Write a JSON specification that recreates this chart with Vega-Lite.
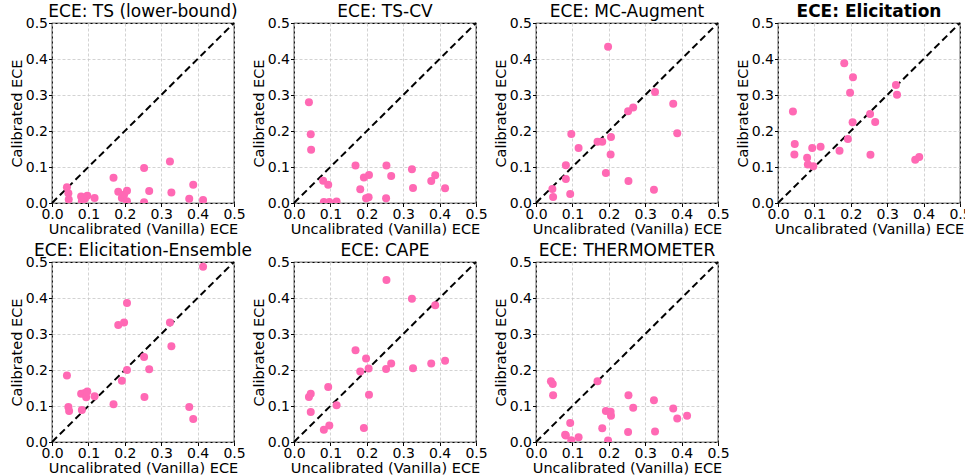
{
  "$schema": "https://vega.github.io/schema/vega-lite/v6.json",
  "background": "white",
  "padding": {"left": 8, "top": 2, "right": 0, "bottom": 0},
  "bounds": "flush",
  "columns": 4,
  "spacing": {"row": 59, "column": 60},
  "config": {
    "font": "DejaVu Sans",
    "view": {"stroke": "black", "strokeWidth": 1.2},
    "axis": {
      "domain": false, "grid": true, "gridColor": "#c8c8c8", "gridDash": [3, 2], "gridWidth": 0.8,
      "tickColor": "black", "tickSize": 3.5, "labelColor": "black", "labelFontSize": 14, "labelPadding": 1,
      "titleFontSize": 14.5, "titleFontWeight": "normal", "titleColor": "black", "titlePadding": 1,
      "values": [0, 0.1, 0.2, 0.3, 0.4, 0.5], "format": ".1f", "labelFlush": false, "labelOverlap": false
    },
    "title": {"fontSize": 17, "fontWeight": "normal", "offset": -5, "color": "black"}
  },
  "datasets": {
    "pts": [
      {"panel": "TS", "vanilla": 0.041, "calibrated": 0.044},
      {"panel": "TS", "vanilla": 0.045, "calibrated": 0.027},
      {"panel": "TS", "vanilla": 0.046, "calibrated": 0.010},
      {"panel": "TS", "vanilla": 0.080, "calibrated": 0.018},
      {"panel": "TS", "vanilla": 0.082, "calibrated": 0.005},
      {"panel": "TS", "vanilla": 0.090, "calibrated": 0.012},
      {"panel": "TS", "vanilla": 0.097, "calibrated": 0.020},
      {"panel": "TS", "vanilla": 0.117, "calibrated": 0.014},
      {"panel": "TS", "vanilla": 0.169, "calibrated": 0.070},
      {"panel": "TS", "vanilla": 0.182, "calibrated": 0.031},
      {"panel": "TS", "vanilla": 0.192, "calibrated": 0.014},
      {"panel": "TS", "vanilla": 0.198, "calibrated": 0.023},
      {"panel": "TS", "vanilla": 0.206, "calibrated": 0.034},
      {"panel": "TS", "vanilla": 0.206, "calibrated": 0.005},
      {"panel": "TS", "vanilla": 0.253, "calibrated": 0.097},
      {"panel": "TS", "vanilla": 0.253, "calibrated": 0.002},
      {"panel": "TS", "vanilla": 0.267, "calibrated": 0.033},
      {"panel": "TS", "vanilla": 0.324, "calibrated": 0.115},
      {"panel": "TS", "vanilla": 0.328, "calibrated": 0.029},
      {"panel": "TS", "vanilla": 0.377, "calibrated": 0.012},
      {"panel": "TS", "vanilla": 0.388, "calibrated": 0.051},
      {"panel": "TS", "vanilla": 0.415, "calibrated": 0.008},

      {"panel": "TSCV", "vanilla": 0.041, "calibrated": 0.280},
      {"panel": "TSCV", "vanilla": 0.046, "calibrated": 0.191},
      {"panel": "TSCV", "vanilla": 0.047, "calibrated": 0.148},
      {"panel": "TSCV", "vanilla": 0.080, "calibrated": 0.062},
      {"panel": "TSCV", "vanilla": 0.082, "calibrated": 0.003},
      {"panel": "TSCV", "vanilla": 0.094, "calibrated": 0.051},
      {"panel": "TSCV", "vanilla": 0.097, "calibrated": 0.003},
      {"panel": "TSCV", "vanilla": 0.117, "calibrated": 0.004},
      {"panel": "TSCV", "vanilla": 0.169, "calibrated": 0.104},
      {"panel": "TSCV", "vanilla": 0.182, "calibrated": 0.038},
      {"panel": "TSCV", "vanilla": 0.192, "calibrated": 0.071},
      {"panel": "TSCV", "vanilla": 0.198, "calibrated": 0.013},
      {"panel": "TSCV", "vanilla": 0.206, "calibrated": 0.078},
      {"panel": "TSCV", "vanilla": 0.205, "calibrated": 0.016},
      {"panel": "TSCV", "vanilla": 0.253, "calibrated": 0.013},
      {"panel": "TSCV", "vanilla": 0.254, "calibrated": 0.104},
      {"panel": "TSCV", "vanilla": 0.267, "calibrated": 0.075},
      {"panel": "TSCV", "vanilla": 0.324, "calibrated": 0.094},
      {"panel": "TSCV", "vanilla": 0.327, "calibrated": 0.042},
      {"panel": "TSCV", "vanilla": 0.377, "calibrated": 0.061},
      {"panel": "TSCV", "vanilla": 0.388, "calibrated": 0.077},
      {"panel": "TSCV", "vanilla": 0.415, "calibrated": 0.041},

      {"panel": "MC", "vanilla": 0.198, "calibrated": 0.434},
      {"panel": "MC", "vanilla": 0.327, "calibrated": 0.308},
      {"panel": "MC", "vanilla": 0.377, "calibrated": 0.276},
      {"panel": "MC", "vanilla": 0.388, "calibrated": 0.194},
      {"panel": "MC", "vanilla": 0.253, "calibrated": 0.255},
      {"panel": "MC", "vanilla": 0.267, "calibrated": 0.265},
      {"panel": "MC", "vanilla": 0.097, "calibrated": 0.192},
      {"panel": "MC", "vanilla": 0.117, "calibrated": 0.153},
      {"panel": "MC", "vanilla": 0.169, "calibrated": 0.170},
      {"panel": "MC", "vanilla": 0.182, "calibrated": 0.170},
      {"panel": "MC", "vanilla": 0.206, "calibrated": 0.183},
      {"panel": "MC", "vanilla": 0.205, "calibrated": 0.135},
      {"panel": "MC", "vanilla": 0.082, "calibrated": 0.105},
      {"panel": "MC", "vanilla": 0.082, "calibrated": 0.067},
      {"panel": "MC", "vanilla": 0.192, "calibrated": 0.083},
      {"panel": "MC", "vanilla": 0.254, "calibrated": 0.061},
      {"panel": "MC", "vanilla": 0.324, "calibrated": 0.037},
      {"panel": "MC", "vanilla": 0.045, "calibrated": 0.039},
      {"panel": "MC", "vanilla": 0.047, "calibrated": 0.017},
      {"panel": "MC", "vanilla": 0.094, "calibrated": 0.025},

      {"panel": "EL", "vanilla": 0.182, "calibrated": 0.388},
      {"panel": "EL", "vanilla": 0.206, "calibrated": 0.349},
      {"panel": "EL", "vanilla": 0.198, "calibrated": 0.306},
      {"panel": "EL", "vanilla": 0.324, "calibrated": 0.328},
      {"panel": "EL", "vanilla": 0.327, "calibrated": 0.301},
      {"panel": "EL", "vanilla": 0.041, "calibrated": 0.254},
      {"panel": "EL", "vanilla": 0.253, "calibrated": 0.247},
      {"panel": "EL", "vanilla": 0.205, "calibrated": 0.224},
      {"panel": "EL", "vanilla": 0.267, "calibrated": 0.225},
      {"panel": "EL", "vanilla": 0.192, "calibrated": 0.178},
      {"panel": "EL", "vanilla": 0.046, "calibrated": 0.164},
      {"panel": "EL", "vanilla": 0.045, "calibrated": 0.135},
      {"panel": "EL", "vanilla": 0.094, "calibrated": 0.153},
      {"panel": "EL", "vanilla": 0.117, "calibrated": 0.156},
      {"panel": "EL", "vanilla": 0.169, "calibrated": 0.145},
      {"panel": "EL", "vanilla": 0.080, "calibrated": 0.126},
      {"panel": "EL", "vanilla": 0.082, "calibrated": 0.107},
      {"panel": "EL", "vanilla": 0.097, "calibrated": 0.102},
      {"panel": "EL", "vanilla": 0.254, "calibrated": 0.134},
      {"panel": "EL", "vanilla": 0.377, "calibrated": 0.120},
      {"panel": "EL", "vanilla": 0.388, "calibrated": 0.128},

      {"panel": "ENS", "vanilla": 0.415, "calibrated": 0.487},
      {"panel": "ENS", "vanilla": 0.206, "calibrated": 0.386},
      {"panel": "ENS", "vanilla": 0.182, "calibrated": 0.325},
      {"panel": "ENS", "vanilla": 0.198, "calibrated": 0.332},
      {"panel": "ENS", "vanilla": 0.324, "calibrated": 0.332},
      {"panel": "ENS", "vanilla": 0.328, "calibrated": 0.266},
      {"panel": "ENS", "vanilla": 0.041, "calibrated": 0.185},
      {"panel": "ENS", "vanilla": 0.253, "calibrated": 0.236},
      {"panel": "ENS", "vanilla": 0.206, "calibrated": 0.200},
      {"panel": "ENS", "vanilla": 0.267, "calibrated": 0.202},
      {"panel": "ENS", "vanilla": 0.192, "calibrated": 0.170},
      {"panel": "ENS", "vanilla": 0.080, "calibrated": 0.134},
      {"panel": "ENS", "vanilla": 0.090, "calibrated": 0.136},
      {"panel": "ENS", "vanilla": 0.094, "calibrated": 0.124},
      {"panel": "ENS", "vanilla": 0.097, "calibrated": 0.140},
      {"panel": "ENS", "vanilla": 0.117, "calibrated": 0.127},
      {"panel": "ENS", "vanilla": 0.169, "calibrated": 0.105},
      {"panel": "ENS", "vanilla": 0.254, "calibrated": 0.125},
      {"panel": "ENS", "vanilla": 0.045, "calibrated": 0.097},
      {"panel": "ENS", "vanilla": 0.047, "calibrated": 0.086},
      {"panel": "ENS", "vanilla": 0.082, "calibrated": 0.089},
      {"panel": "ENS", "vanilla": 0.377, "calibrated": 0.097},
      {"panel": "ENS", "vanilla": 0.388, "calibrated": 0.064},

      {"panel": "CAPE", "vanilla": 0.254, "calibrated": 0.450},
      {"panel": "CAPE", "vanilla": 0.324, "calibrated": 0.398},
      {"panel": "CAPE", "vanilla": 0.388, "calibrated": 0.380},
      {"panel": "CAPE", "vanilla": 0.169, "calibrated": 0.255},
      {"panel": "CAPE", "vanilla": 0.198, "calibrated": 0.232},
      {"panel": "CAPE", "vanilla": 0.182, "calibrated": 0.196},
      {"panel": "CAPE", "vanilla": 0.205, "calibrated": 0.204},
      {"panel": "CAPE", "vanilla": 0.253, "calibrated": 0.203},
      {"panel": "CAPE", "vanilla": 0.267, "calibrated": 0.218},
      {"panel": "CAPE", "vanilla": 0.327, "calibrated": 0.205},
      {"panel": "CAPE", "vanilla": 0.377, "calibrated": 0.218},
      {"panel": "CAPE", "vanilla": 0.415, "calibrated": 0.226},
      {"panel": "CAPE", "vanilla": 0.094, "calibrated": 0.153},
      {"panel": "CAPE", "vanilla": 0.041, "calibrated": 0.125},
      {"panel": "CAPE", "vanilla": 0.046, "calibrated": 0.134},
      {"panel": "CAPE", "vanilla": 0.046, "calibrated": 0.083},
      {"panel": "CAPE", "vanilla": 0.117, "calibrated": 0.102},
      {"panel": "CAPE", "vanilla": 0.206, "calibrated": 0.131},
      {"panel": "CAPE", "vanilla": 0.082, "calibrated": 0.034},
      {"panel": "CAPE", "vanilla": 0.097, "calibrated": 0.046},
      {"panel": "CAPE", "vanilla": 0.192, "calibrated": 0.039},

      {"panel": "TH", "vanilla": 0.041, "calibrated": 0.169},
      {"panel": "TH", "vanilla": 0.046, "calibrated": 0.161},
      {"panel": "TH", "vanilla": 0.047, "calibrated": 0.130},
      {"panel": "TH", "vanilla": 0.169, "calibrated": 0.169},
      {"panel": "TH", "vanilla": 0.254, "calibrated": 0.130},
      {"panel": "TH", "vanilla": 0.324, "calibrated": 0.116},
      {"panel": "TH", "vanilla": 0.377, "calibrated": 0.093},
      {"panel": "TH", "vanilla": 0.388, "calibrated": 0.065},
      {"panel": "TH", "vanilla": 0.415, "calibrated": 0.073},
      {"panel": "TH", "vanilla": 0.327, "calibrated": 0.029},
      {"panel": "TH", "vanilla": 0.253, "calibrated": 0.028},
      {"panel": "TH", "vanilla": 0.267, "calibrated": 0.095},
      {"panel": "TH", "vanilla": 0.192, "calibrated": 0.086},
      {"panel": "TH", "vanilla": 0.205, "calibrated": 0.084},
      {"panel": "TH", "vanilla": 0.206, "calibrated": 0.073},
      {"panel": "TH", "vanilla": 0.182, "calibrated": 0.038},
      {"panel": "TH", "vanilla": 0.094, "calibrated": 0.053},
      {"panel": "TH", "vanilla": 0.080, "calibrated": 0.020},
      {"panel": "TH", "vanilla": 0.082, "calibrated": 0.018},
      {"panel": "TH", "vanilla": 0.097, "calibrated": 0.005},
      {"panel": "TH", "vanilla": 0.117, "calibrated": 0.013},
      {"panel": "TH", "vanilla": 0.198, "calibrated": 0.004}
    ],
    "diag": [{"v": 0}, {"v": 0.5}]
  },
  "concat": [
    {
      "title": "ECE: TS (lower-bound)", "width": 182, "height": 180,
      "layer": [
        {"data": {"name": "diag"}, "mark": {"type": "line", "color": "black", "strokeDash": [7, 4], "strokeWidth": 2},
         "encoding": {"x": {"field": "v", "type": "quantitative", "scale": {"domain": [0, 0.5], "nice": false}, "title": "Uncalibrated (Vanilla) ECE"},
                      "y": {"field": "v", "type": "quantitative", "scale": {"domain": [0, 0.5], "nice": false}, "title": "Calibrated ECE"}}},
        {"data": {"name": "pts"}, "transform": [{"filter": "datum.panel === 'TS'"}],
         "mark": {"type": "circle", "size": 64, "color": "#ff69b4", "opacity": 1, "clip": true},
         "encoding": {"x": {"field": "vanilla", "type": "quantitative"}, "y": {"field": "calibrated", "type": "quantitative"}}}
      ]
    },
    {
      "title": "ECE: TS-CV", "width": 182, "height": 180,
      "layer": [
        {"data": {"name": "diag"}, "mark": {"type": "line", "color": "black", "strokeDash": [7, 4], "strokeWidth": 2},
         "encoding": {"x": {"field": "v", "type": "quantitative", "scale": {"domain": [0, 0.5], "nice": false}, "title": "Uncalibrated (Vanilla) ECE"},
                      "y": {"field": "v", "type": "quantitative", "scale": {"domain": [0, 0.5], "nice": false}, "title": "Calibrated ECE"}}},
        {"data": {"name": "pts"}, "transform": [{"filter": "datum.panel === 'TSCV'"}],
         "mark": {"type": "circle", "size": 64, "color": "#ff69b4", "opacity": 1, "clip": true},
         "encoding": {"x": {"field": "vanilla", "type": "quantitative"}, "y": {"field": "calibrated", "type": "quantitative"}}}
      ]
    },
    {
      "title": "ECE: MC-Augment", "width": 182, "height": 180,
      "layer": [
        {"data": {"name": "diag"}, "mark": {"type": "line", "color": "black", "strokeDash": [7, 4], "strokeWidth": 2},
         "encoding": {"x": {"field": "v", "type": "quantitative", "scale": {"domain": [0, 0.5], "nice": false}, "title": "Uncalibrated (Vanilla) ECE"},
                      "y": {"field": "v", "type": "quantitative", "scale": {"domain": [0, 0.5], "nice": false}, "title": "Calibrated ECE"}}},
        {"data": {"name": "pts"}, "transform": [{"filter": "datum.panel === 'MC'"}],
         "mark": {"type": "circle", "size": 64, "color": "#ff69b4", "opacity": 1, "clip": true},
         "encoding": {"x": {"field": "vanilla", "type": "quantitative"}, "y": {"field": "calibrated", "type": "quantitative"}}}
      ]
    },
    {
      "title": {"text": "ECE: Elicitation", "fontWeight": "bold"}, "width": 182, "height": 180,
      "layer": [
        {"data": {"name": "diag"}, "mark": {"type": "line", "color": "black", "strokeDash": [7, 4], "strokeWidth": 2},
         "encoding": {"x": {"field": "v", "type": "quantitative", "scale": {"domain": [0, 0.5], "nice": false}, "title": "Uncalibrated (Vanilla) ECE"},
                      "y": {"field": "v", "type": "quantitative", "scale": {"domain": [0, 0.5], "nice": false}, "title": "Calibrated ECE"}}},
        {"data": {"name": "pts"}, "transform": [{"filter": "datum.panel === 'EL'"}],
         "mark": {"type": "circle", "size": 64, "color": "#ff69b4", "opacity": 1, "clip": true},
         "encoding": {"x": {"field": "vanilla", "type": "quantitative"}, "y": {"field": "calibrated", "type": "quantitative"}}}
      ]
    },
    {
      "title": "ECE: Elicitation-Ensemble", "width": 182, "height": 180,
      "layer": [
        {"data": {"name": "diag"}, "mark": {"type": "line", "color": "black", "strokeDash": [7, 4], "strokeWidth": 2},
         "encoding": {"x": {"field": "v", "type": "quantitative", "scale": {"domain": [0, 0.5], "nice": false}, "title": "Uncalibrated (Vanilla) ECE"},
                      "y": {"field": "v", "type": "quantitative", "scale": {"domain": [0, 0.5], "nice": false}, "title": "Calibrated ECE"}}},
        {"data": {"name": "pts"}, "transform": [{"filter": "datum.panel === 'ENS'"}],
         "mark": {"type": "circle", "size": 64, "color": "#ff69b4", "opacity": 1, "clip": true},
         "encoding": {"x": {"field": "vanilla", "type": "quantitative"}, "y": {"field": "calibrated", "type": "quantitative"}}}
      ]
    },
    {
      "title": "ECE: CAPE", "width": 182, "height": 180,
      "layer": [
        {"data": {"name": "diag"}, "mark": {"type": "line", "color": "black", "strokeDash": [7, 4], "strokeWidth": 2},
         "encoding": {"x": {"field": "v", "type": "quantitative", "scale": {"domain": [0, 0.5], "nice": false}, "title": "Uncalibrated (Vanilla) ECE"},
                      "y": {"field": "v", "type": "quantitative", "scale": {"domain": [0, 0.5], "nice": false}, "title": "Calibrated ECE"}}},
        {"data": {"name": "pts"}, "transform": [{"filter": "datum.panel === 'CAPE'"}],
         "mark": {"type": "circle", "size": 64, "color": "#ff69b4", "opacity": 1, "clip": true},
         "encoding": {"x": {"field": "vanilla", "type": "quantitative"}, "y": {"field": "calibrated", "type": "quantitative"}}}
      ]
    },
    {
      "title": "ECE: THERMOMETER", "width": 182, "height": 180,
      "layer": [
        {"data": {"name": "diag"}, "mark": {"type": "line", "color": "black", "strokeDash": [7, 4], "strokeWidth": 2},
         "encoding": {"x": {"field": "v", "type": "quantitative", "scale": {"domain": [0, 0.5], "nice": false}, "title": "Uncalibrated (Vanilla) ECE"},
                      "y": {"field": "v", "type": "quantitative", "scale": {"domain": [0, 0.5], "nice": false}, "title": "Calibrated ECE"}}},
        {"data": {"name": "pts"}, "transform": [{"filter": "datum.panel === 'TH'"}],
         "mark": {"type": "circle", "size": 64, "color": "#ff69b4", "opacity": 1, "clip": true},
         "encoding": {"x": {"field": "vanilla", "type": "quantitative"}, "y": {"field": "calibrated", "type": "quantitative"}}}
      ]
    }
  ]
}
